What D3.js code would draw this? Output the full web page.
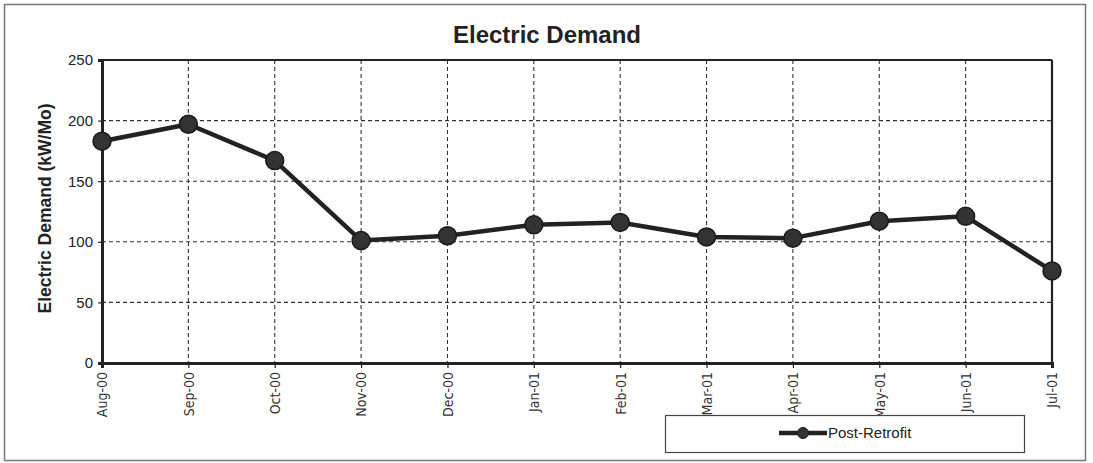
<!DOCTYPE html>
<html><head><meta charset="utf-8">
<script src="https://cdn.jsdelivr.net/npm/d3@7"></script>
<style>
html,body{margin:0;padding:0;background:#fff;}
svg{display:block;}
</style></head>
<body>
<svg id="chart" width="1093" height="463"></svg>
<script>
const categories = ["Aug-00","Sep-00","Oct-00","Nov-00","Dec-00","Jan-01","Feb-01","Mar-01","Apr-01","May-01","Jun-01","Jul-01"];
const postRetrofit = [183, 197, 167, 101, 105, 114, 116, 104, 103, 117, 121, 76];
const yTicks = [0, 50, 100, 150, 200, 250];
const seriesName = "Post-Retrofit";
const titleText = "Electric Demand";
const yLabelText = "Electric Demand (kW/Mo)";

const svg = d3.select("#chart");
const m = {left: 102, right: 1052, top: 60, bottom: 363};

// outer frame
svg.append("rect").attr("x",4.5).attr("y",4.5).attr("width",1081).attr("height",456)
  .attr("fill","#fff").attr("stroke","#777").attr("stroke-width",1.5);

const x = d3.scalePoint().domain(categories).range([m.left, m.right]);
const y = d3.scaleLinear().domain([0,250]).range([m.bottom, m.top]);

// gridlines
svg.append("g").selectAll("line").data(yTicks.filter(d=>d>0 && d<250)).join("line")
  .attr("x1",m.left).attr("x2",m.right).attr("y1",d=>y(d)).attr("y2",d=>y(d))
  .attr("stroke","#333").attr("stroke-width",1.1).attr("stroke-dasharray","4,3");
svg.append("g").selectAll("line").data(categories.slice(1,-1)).join("line")
  .attr("x1",d=>x(d)).attr("x2",d=>x(d)).attr("y1",m.top).attr("y2",m.bottom)
  .attr("stroke","#333").attr("stroke-width",1.1).attr("stroke-dasharray","4,3");

// plot border
svg.append("line").attr("x1",m.left).attr("x2",m.right).attr("y1",m.top).attr("y2",m.top)
  .attr("stroke","#222").attr("stroke-width",2);
svg.append("line").attr("x1",m.right).attr("x2",m.right).attr("y1",m.top).attr("y2",m.bottom)
  .attr("stroke","#222").attr("stroke-width",2.2);

// axes
const yAxis = d3.axisLeft(y).tickValues(yTicks).tickSize(4).tickPadding(5);
const gy = svg.append("g").attr("transform",`translate(${m.left},0)`).call(yAxis);
gy.select(".domain").attr("stroke","#222").attr("stroke-width",3);
gy.selectAll(".tick line").attr("stroke","#222").attr("stroke-width",1.2);
gy.selectAll(".tick text").attr("font-family","Arial, 'Liberation Sans', sans-serif")
  .attr("font-size",15).attr("fill","#222");

const xAxis = d3.axisBottom(x).tickSize(5).tickPadding(4);
const gx = svg.append("g").attr("transform",`translate(0,${m.bottom})`).call(xAxis);
gx.select(".domain").attr("stroke","#222").attr("stroke-width",3);
gx.selectAll(".tick line").attr("stroke","#222").attr("stroke-width",1.2);
gx.selectAll(".tick text")
  .attr("font-family","'Liberation Sans Narrow', 'Arial Narrow', 'DejaVu Sans Condensed', sans-serif")
  .attr("font-size",14).attr("fill","#333")
  .attr("text-anchor","end").attr("dy","0.35em")
  .attr("transform","translate(0,9) rotate(-90)")
  .attr("x",0).attr("y",0);

// line
const line = d3.line().x((d,i)=>x(categories[i])).y(d=>y(d));
svg.append("path").datum(postRetrofit).attr("d",line)
  .attr("fill","none").attr("stroke","#222").attr("stroke-width",4.5).attr("stroke-linejoin","round");
svg.append("g").selectAll("circle").data(postRetrofit).join("circle")
  .attr("cx",(d,i)=>x(categories[i])).attr("cy",d=>y(d)).attr("r",9)
  .attr("fill","#333").attr("stroke","#1a1a1a").attr("stroke-width",1.5);

// title
svg.append("text").attr("x",547).attr("y",43).attr("text-anchor","middle")
  .attr("font-family","Arial, 'Liberation Sans', sans-serif").attr("font-weight","bold")
  .attr("font-size",24).attr("fill","#222").text(titleText);

// y label
svg.append("text").attr("transform",`translate(51,${(m.top+m.bottom)/2 - 3}) rotate(-90)`)
  .attr("text-anchor","middle")
  .attr("font-family","Arial, 'Liberation Sans', sans-serif").attr("font-weight","bold")
  .attr("font-size",17.5).attr("fill","#222").text(yLabelText);

// legend
const lg = svg.append("g");
lg.append("rect").attr("x",665.5).attr("y",415.5).attr("width",359).attr("height",37)
  .attr("fill","#fff").attr("stroke","#444").attr("stroke-width",1.2);
lg.append("line").attr("x1",779).attr("x2",827).attr("y1",433).attr("y2",433)
  .attr("stroke","#222").attr("stroke-width",4.5);
lg.append("circle").attr("cx",803).attr("cy",433).attr("r",5.5).attr("fill","#333").attr("stroke","#1a1a1a");
lg.append("text").attr("x",828).attr("y",438)
  .attr("font-family","'Liberation Sans Narrow', 'Arial Narrow', Arial, sans-serif")
  .attr("font-size",15).attr("fill","#222").text(seriesName);
</script>
</body></html>
